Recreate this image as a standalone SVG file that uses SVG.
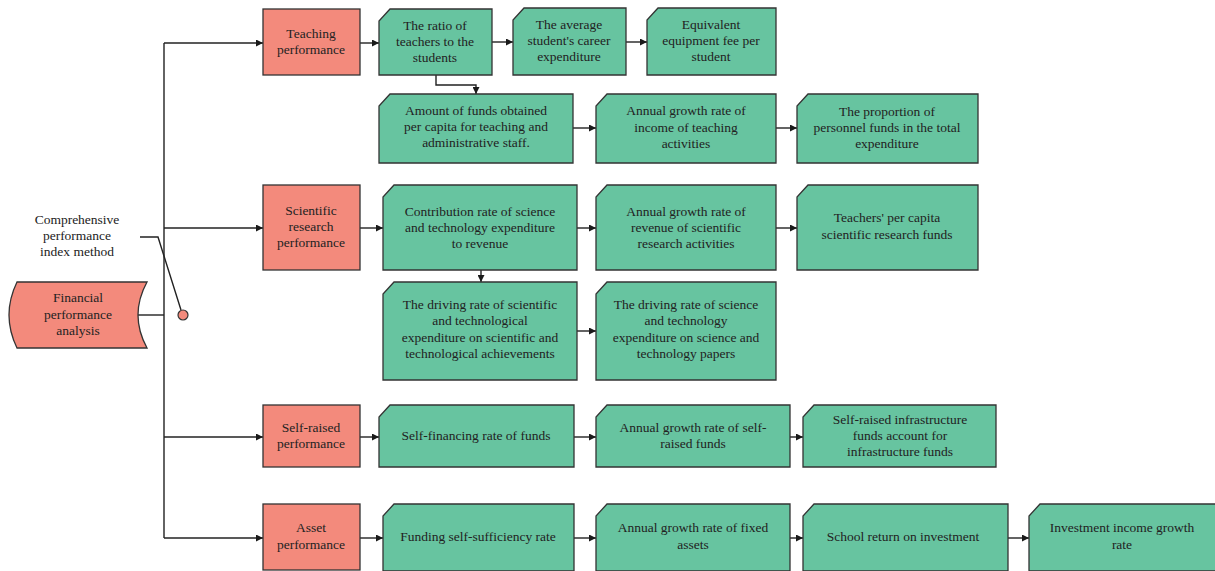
<svg xmlns="http://www.w3.org/2000/svg" width="1215" height="571" viewBox="0 0 1215 571">
<defs>
<marker id="ah" viewBox="0 0 8 8" refX="8" refY="4" markerWidth="7" markerHeight="7" markerUnits="userSpaceOnUse" orient="auto">
<path d="M0,0 L8,4 L0,8 Z" fill="#1a1a1a"/>
</marker>
</defs>
<style>
.red{fill:#f38a7c;stroke:#333;stroke-width:1.3}
.grn{fill:#67c4a0;stroke:#333;stroke-width:1.3}
.t{font-family:"Liberation Serif",serif;font-size:13.5px;fill:#222;text-anchor:middle}
.c{fill:none;stroke:#222;stroke-width:1.4}
.a{fill:none;stroke:#222;stroke-width:1.4;marker-end:url(#ah)}
</style>
<rect width="1215" height="571" fill="#fff"/>

<g id="connectors">
<path class="c" d="M164 43 V538"/>
<path class="a" d="M164 43 H263"/>
<path class="a" d="M164 228 H263"/>
<path class="a" d="M164 437 H263"/>
<path class="a" d="M164 538 H263"/>
<path class="c" d="M138 315 H164"/>
<path class="c" d="M140 237 H158 L181 310"/>
<path class="a" d="M360 43 H379"/>
<path class="a" d="M492 42 H513"/>
<path class="a" d="M626 42 H647"/>
<path class="a" d="M436 75 V85 H476 V94"/>
<path class="a" d="M573 128 H596"/>
<path class="a" d="M776 128 H797"/>
<path class="a" d="M360 228 H383"/>
<path class="a" d="M577 228 H596"/>
<path class="a" d="M776 228 H797"/>
<path class="a" d="M481 270 V282"/>
<path class="a" d="M577 331 H596"/>
<path class="a" d="M360 437 H379"/>
<path class="a" d="M574 437 H596"/>
<path class="a" d="M790 437 H803"/>
<path class="a" d="M360 538 H383"/>
<path class="a" d="M574 538 H596"/>
<path class="a" d="M790 538 H803"/>
<path class="a" d="M1008 538 H1029"/>
</g>

<g id="method-label">
<text class="t" x="77" y="224">Comprehensive</text>
<text class="t" x="77" y="240">performance</text>
<text class="t" x="77" y="256">index method</text>
<circle cx="183" cy="315" r="5" fill="#f38a7c" stroke="#333" stroke-width="1.2"/>
</g>

<g id="financial">
<path class="red" d="M17 282 L147 282 Q129 315 147 348 L17 348 Q1 315 17 282 Z"/>
<text class="t" x="78" y="302">Financial</text>
<text class="t" x="78" y="319">performance</text>
<text class="t" x="78" y="335">analysis</text>
</g>

<g id="teaching">
<rect class="red" x="263" y="9" width="97" height="66"/>
<text class="t" x="311" y="38">Teaching</text>
<text class="t" x="311" y="54">performance</text>
</g>
<g id="scientific">
<rect class="red" x="263" y="185" width="97" height="85"/>
<text class="t" x="311" y="215">Scientific</text>
<text class="t" x="311" y="231">research</text>
<text class="t" x="311" y="247">performance</text>
</g>
<g id="selfraised">
<rect class="red" x="263" y="405" width="97" height="62"/>
<text class="t" x="311" y="432">Self-raised</text>
<text class="t" x="311" y="448">performance</text>
</g>
<g id="asset">
<rect class="red" x="263" y="504" width="97" height="66"/>
<text class="t" x="311" y="532">Asset</text>
<text class="t" x="311" y="549">performance</text>
</g>

<g id="n1">
<path class="grn" d="M390 9 H492 V75 H379 V21 Z"/>
<text class="t" x="435" y="30">The ratio of</text>
<text class="t" x="435" y="46">teachers to the</text>
<text class="t" x="435" y="62">students</text>
</g>
<g id="n2">
<path class="grn" d="M524 8 H626 V75 H513 V20 Z"/>
<text class="t" x="569" y="29">The average</text>
<text class="t" x="569" y="45">student's career</text>
<text class="t" x="569" y="61">expenditure</text>
</g>
<g id="n3">
<path class="grn" d="M658 8 H776 V75 H647 V20 Z"/>
<text class="t" x="711" y="29">Equivalent</text>
<text class="t" x="711" y="45">equipment fee per</text>
<text class="t" x="711" y="61">student</text>
</g>
<g id="n4">
<path class="grn" d="M390 94 H573 V163 H379 V106 Z"/>
<text class="t" x="476" y="115">Amount of funds obtained</text>
<text class="t" x="476" y="131">per capita for teaching and</text>
<text class="t" x="476" y="147">administrative staff.</text>
</g>
<g id="n5">
<path class="grn" d="M607 94 H776 V163 H596 V106 Z"/>
<text class="t" x="686" y="115">Annual growth rate of</text>
<text class="t" x="686" y="132">income of teaching</text>
<text class="t" x="686" y="148">activities</text>
</g>
<g id="n6">
<path class="grn" d="M808 94 H978 V163 H797 V106 Z"/>
<text class="t" x="887" y="116">The proportion of</text>
<text class="t" x="887" y="132">personnel funds in the total</text>
<text class="t" x="887" y="148">expenditure</text>
</g>
<g id="n7">
<path class="grn" d="M394 185 H577 V270 H383 V197 Z"/>
<text class="t" x="480" y="216">Contribution rate of science</text>
<text class="t" x="480" y="232">and technology expenditure</text>
<text class="t" x="480" y="248">to revenue</text>
</g>
<g id="n8">
<path class="grn" d="M607 185 H776 V270 H596 V197 Z"/>
<text class="t" x="686" y="216">Annual growth rate of</text>
<text class="t" x="686" y="232">revenue of scientific</text>
<text class="t" x="686" y="248">research activities</text>
</g>
<g id="n9">
<path class="grn" d="M808 185 H978 V270 H797 V197 Z"/>
<text class="t" x="887" y="222">Teachers' per capita</text>
<text class="t" x="887" y="239">scientific research funds</text>
</g>
<g id="n10">
<path class="grn" d="M394 282 H577 V380 H383 V294 Z"/>
<text class="t" x="480" y="309">The driving rate of scientific</text>
<text class="t" x="480" y="325">and technological</text>
<text class="t" x="480" y="342">expenditure on scientific and</text>
<text class="t" x="480" y="358">technological achievements</text>
</g>
<g id="n11">
<path class="grn" d="M607 282 H776 V380 H596 V294 Z"/>
<text class="t" x="686" y="309">The driving rate of science</text>
<text class="t" x="686" y="325">and technology</text>
<text class="t" x="686" y="342">expenditure on science and</text>
<text class="t" x="686" y="358">technology papers</text>
</g>
<g id="n12">
<path class="grn" d="M390 405 H574 V467 H379 V417 Z"/>
<text class="t" x="476" y="440">Self-financing rate of funds</text>
</g>
<g id="n13">
<path class="grn" d="M607 405 H790 V467 H596 V417 Z"/>
<text class="t" x="693" y="432">Annual growth rate of self-</text>
<text class="t" x="693" y="448">raised funds</text>
</g>
<g id="n14">
<path class="grn" d="M814 405 H996 V467 H803 V417 Z"/>
<text class="t" x="900" y="424">Self-raised infrastructure</text>
<text class="t" x="900" y="440">funds account for</text>
<text class="t" x="900" y="456">infrastructure funds</text>
</g>
<g id="n15">
<path class="grn" d="M394 504 H574 V571 H383 V516 Z"/>
<text class="t" x="478" y="541">Funding self-sufficiency rate</text>
</g>
<g id="n16">
<path class="grn" d="M607 504 H790 V571 H596 V516 Z"/>
<text class="t" x="693" y="532">Annual growth rate of fixed</text>
<text class="t" x="693" y="549">assets</text>
</g>
<g id="n17">
<path class="grn" d="M814 504 H1008 V571 H803 V516 Z"/>
<text class="t" x="903" y="541">School return on investment</text>
</g>
<g id="n18">
<path class="grn" d="M1040 504 H1216 V571 H1029 V516 Z"/>
<text class="t" x="1122" y="532">Investment income growth</text>
<text class="t" x="1122" y="549">rate</text>
</g>
</svg>
